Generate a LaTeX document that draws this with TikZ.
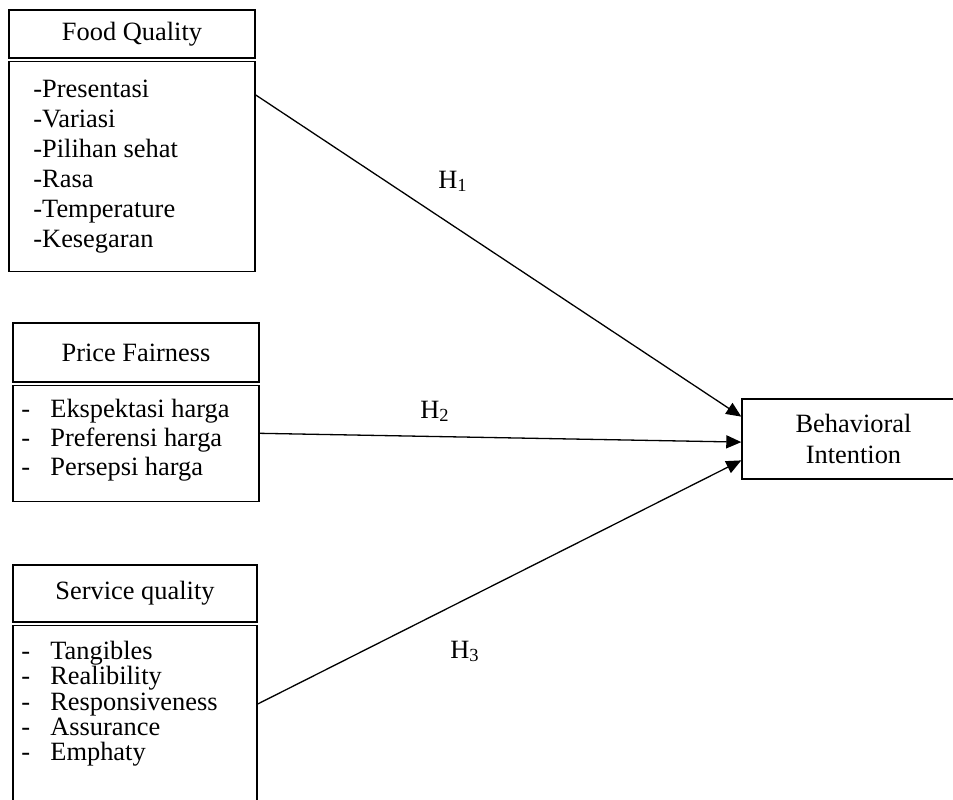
\documentclass[tikz,border=0pt]{standalone}
\usepackage{fontspec}
\setmainfont{Liberation Serif}
\usetikzlibrary{arrows.meta, calc, positioning}

\begin{document}
\begin{tikzpicture}[>={Triangle[length=7.5pt,width=6.5pt]}, x=0.5pt, y=-0.5pt, font=\fontsize{13.2}{14.25}\selectfont]
	\tikzstyle{head} = [draw, line width=0.7pt, inner sep=0pt]
	\tikzstyle{body} = [draw, line width=0.7pt, inner sep=0pt]
	\tikzstyle{items} = [anchor=north west, align=left, inner sep=0pt]
	\tikzstyle{hyp} = [anchor=base west, inner sep=0pt]

	\useasboundingbox (0,0) rectangle (953,799);

	% Food Quality
	\path
		node[head, minimum width=123pt, minimum height=24pt] (foodhead) at (132,34) {Food Quality}
		node[body, minimum width=123pt, minimum height=105pt, below=1pt of foodhead] (foodbody) {}
		node[items, font=\fontsize{13.2}{15}\selectfont] (fooditems) at (33,80)
			{-Presentasi\\-Variasi\\-Pilihan sehat\\-Rasa\\-Temperature\\-Kesegaran}
	;

	% Price Fairness
	\path
		node[head, minimum width=123pt, minimum height=29.5pt] (pricehead) at (136,352.5) {Price Fairness}
		node[body, minimum width=123pt, minimum height=58pt, below=1pt of pricehead] (pricebody) {}
		node[items, font=\fontsize{13.2}{14.5}\selectfont] (priceitems) at (21,399)
			{\makebox[14.5pt][l]{-}Ekspektasi harga\\
			 \makebox[14.5pt][l]{-}Preferensi harga\\
			 \makebox[14.5pt][l]{-}Persepsi harga}
	;

	% Service quality
	\path
		node[head, minimum width=122pt, minimum height=28.5pt] (servhead) at (135,593.5) {Service quality}
		node[body, minimum width=122pt, minimum height=96pt, below=1pt of servhead] (servbody) {}
		node[items, font=\fontsize{13.2}{12.6}\selectfont] (servitems) at (21,641)
			{\makebox[14.5pt][l]{-}Tangibles\\
			 \makebox[14.5pt][l]{-}Realibility\\
			 \makebox[14.5pt][l]{-}Responsiveness\\
			 \makebox[14.5pt][l]{-}Assurance\\
			 \makebox[14.5pt][l]{-}Emphaty}
	;

	% Behavioral Intention
	\node[body, minimum width=111.5pt, minimum height=40pt, align=center,
		font=\fontsize{13.2}{15.5}\selectfont] (intent) at (853.5,439) {Behavioral\\Intention};

	% hypotheses
	\coordinate (h1from) at ($(foodbody.north east)!0.162!(foodbody.south east)$);
	\coordinate (h2from) at ($(pricebody.north east)!0.414!(pricebody.south east)$);
	\coordinate (h3from) at ($(servbody.north east)!0.41!(servbody.south east)$);
	\coordinate (h1to) at ($(intent.north west)!0.225!(intent.south west)$);
	\coordinate (h2to) at ($(intent.north west)!0.538!(intent.south west)$);
	\coordinate (h3to) at ($(intent.north west)!0.7625!(intent.south west)$);

	\path[->, line width=0.65pt]
		(h1from) edge (h1to)
		(h2from) edge (h2to)
		(h3from) edge (h3to)
	;

	\node[hyp] (h1) at (438,188) {H\textsubscript{1}};
	\node[hyp] (h2) at (420,418) {H\textsubscript{2}};
	\node[hyp] (h3) at (450,658) {H\textsubscript{3}};
\end{tikzpicture}
\end{document}
